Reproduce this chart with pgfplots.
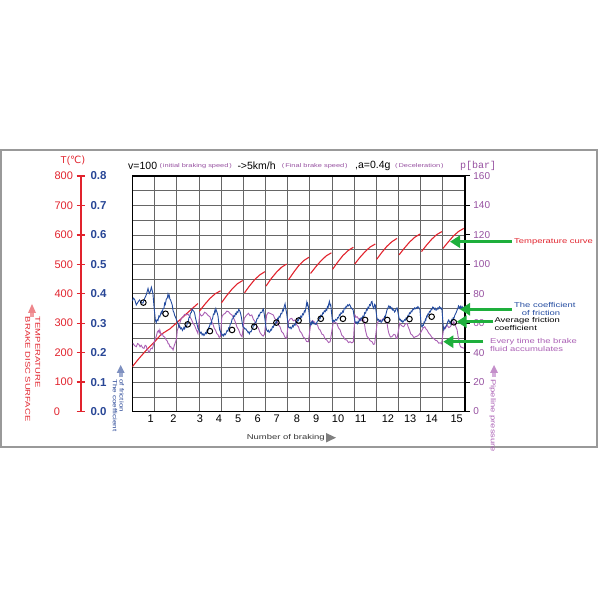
\documentclass[border=0pt]{standalone}
\usepackage{fontspec}
\setmainfont{Liberation Sans}
\newfontfamily\wide[FakeStretch=1.35]{Liberation Sans}
\newfontfamily\dejavu{DejaVu Sans}
\newfontfamily\mono{Liberation Mono}
\usepackage{pgfplots}
\pgfplotsset{compat=1.18}
\usepackage{pgfplotstable}
\usetikzlibrary{arrows.meta}

\definecolor{tred}{RGB}{225,35,45}
\definecolor{fblue}{RGB}{35,75,160}
\definecolor{lblue}{RGB}{40,70,150}
\definecolor{ppurple}{RGB}{170,95,180}
\definecolor{plab}{RGB}{150,80,160}
\definecolor{agreen}{RGB}{30,175,60}

\pgfplotstableread{
x T
0 152
0.3 180
0.7 214
1.0 236
1.3 262
1.7 281
2.1 308
2.5 336
2.96 367
nan nan
3.03 341
3.27 364
3.5 384
3.74 400
3.98 410
nan nan
4.02 369
4.26 394
4.5 416
4.74 434
4.98 445
nan nan
5.06 403
5.29 427
5.52 448
5.75 464
5.98 475
nan nan
6.03 426
6.26 451
6.50 473
6.73 490
6.96 501
nan nan
7.04 447
7.27 472
7.50 495
7.74 513
7.97 524
nan nan
8.04 469
8.28 492
8.51 512
8.75 529
8.98 539
nan nan
9.03 483
9.27 508
9.50 530
9.74 547
9.97 558
nan nan
10.03 501
10.26 523
10.50 543
10.73 559
10.96 569
nan nan
11.02 517
11.25 540
11.48 561
11.71 577
11.94 588
nan nan
12.03 532
12.27 555
12.51 576
12.74 592
12.98 603
nan nan
13.04 543
13.27 565
13.50 585
13.73 601
13.96 611
nan nan
14.01 554
14.25 576
14.48 596
14.72 612
14.95 622
}\temp

\pgfplotstableread{
x m
0.00 0.375
0.05 0.385
0.11 0.380
0.18 0.362
0.26 0.372
0.33 0.379
0.40 0.370
0.48 0.368
0.56 0.385
0.63 0.396
0.71 0.418
0.75 0.405
0.78 0.401
0.82 0.410
0.86 0.422
0.93 0.401
0.98 0.356
1.04 0.311
1.08 0.302
1.12 0.312
1.16 0.309
1.20 0.325
1.24 0.322
1.31 0.339
1.34 0.333
1.38 0.348
1.43 0.352
1.46 0.368
1.49 0.364
1.53 0.381
1.58 0.386
1.61 0.399
1.65 0.388
1.67 0.393
1.69 0.383
1.73 0.378
1.76 0.371
1.80 0.362
1.84 0.342
1.88 0.336
1.91 0.326
1.94 0.322
1.97 0.316
2.03 0.305
2.08 0.295
2.11 0.286
2.14 0.290
2.18 0.281
2.22 0.284
2.26 0.275
2.29 0.279
2.33 0.286
2.36 0.281
2.40 0.291
2.44 0.287
2.48 0.300
2.52 0.303
2.55 0.318
2.59 0.320
2.62 0.334
2.66 0.336
2.70 0.348
2.74 0.343
2.78 0.340
2.81 0.334
2.85 0.318
2.89 0.305
2.92 0.296
2.96 0.283
3.04 0.272
3.07 0.266
3.11 0.269
3.15 0.260
3.19 0.264
3.23 0.258
3.27 0.262
3.30 0.268
3.34 0.265
3.38 0.276
3.41 0.274
3.45 0.286
3.48 0.288
3.52 0.300
3.56 0.297
3.59 0.312
3.62 0.316
3.66 0.331
3.69 0.330
3.72 0.342
3.74 0.338
3.77 0.349
3.79 0.343
3.83 0.335
3.87 0.322
3.90 0.300
3.94 0.277
4.02 0.265
4.05 0.258
4.09 0.262
4.12 0.257
4.16 0.264
4.20 0.261
4.24 0.268
4.27 0.275
4.31 0.273
4.35 0.285
4.39 0.286
4.42 0.298
4.46 0.300
4.50 0.314
4.54 0.315
4.58 0.326
4.62 0.323
4.65 0.333
4.69 0.330
4.72 0.339
4.76 0.336
4.80 0.347
4.84 0.343
4.88 0.334
4.92 0.320
4.95 0.305
4.99 0.288
5.04 0.285
5.08 0.280
5.12 0.281
5.16 0.275
5.19 0.273
5.22 0.268
5.25 0.270
5.28 0.264
5.32 0.272
5.36 0.271
5.40 0.280
5.43 0.282
5.46 0.291
5.50 0.292
5.54 0.303
5.58 0.303
5.62 0.315
5.66 0.316
5.70 0.327
5.73 0.325
5.78 0.337
5.84 0.336
5.88 0.345
5.91 0.348
5.94 0.336
5.97 0.320
6.03 0.285
6.06 0.277
6.10 0.272
6.14 0.276
6.17 0.269
6.21 0.272
6.25 0.279
6.28 0.277
6.32 0.288
6.36 0.286
6.40 0.296
6.44 0.294
6.48 0.305
6.51 0.303
6.55 0.316
6.58 0.313
6.62 0.323
6.66 0.320
6.70 0.333
6.74 0.332
6.78 0.345
6.81 0.342
6.85 0.356
6.89 0.366
6.92 0.350
6.96 0.334
7.04 0.288
7.08 0.284
7.12 0.287
7.16 0.281
7.19 0.284
7.23 0.292
7.26 0.288
7.30 0.296
7.34 0.293
7.38 0.304
7.42 0.301
7.46 0.312
7.49 0.309
7.53 0.319
7.56 0.316
7.60 0.324
7.64 0.320
7.68 0.332
7.72 0.329
7.76 0.341
7.79 0.338
7.83 0.352
7.87 0.371
7.89 0.362
7.91 0.366
7.94 0.356
8.02 0.300
8.05 0.294
8.08 0.302
8.10 0.298
8.13 0.306
8.16 0.303
8.20 0.297
8.24 0.299
8.28 0.296
8.32 0.302
8.36 0.308
8.40 0.309
8.44 0.318
8.47 0.316
8.51 0.327
8.55 0.324
8.59 0.335
8.62 0.333
8.66 0.342
8.70 0.339
8.74 0.347
8.77 0.344
8.80 0.356
8.83 0.353
8.86 0.366
8.89 0.374
8.92 0.360
8.95 0.363
9.02 0.310
9.04 0.305
9.08 0.310
9.12 0.306
9.17 0.313
9.22 0.310
9.26 0.319
9.30 0.318
9.34 0.329
9.37 0.326
9.41 0.335
9.45 0.333
9.49 0.341
9.52 0.338
9.56 0.351
9.60 0.349
9.64 0.357
9.67 0.355
9.71 0.362
9.75 0.359
9.79 0.364
9.82 0.361
9.86 0.353
9.89 0.351
9.93 0.347
9.96 0.345
10.03 0.310
10.06 0.302
10.10 0.304
10.14 0.298
10.18 0.306
10.21 0.303
10.25 0.312
10.28 0.309
10.32 0.318
10.36 0.315
10.40 0.324
10.44 0.321
10.48 0.336
10.52 0.334
10.56 0.346
10.59 0.344
10.63 0.354
10.66 0.351
10.70 0.363
10.74 0.360
10.78 0.372
10.81 0.374
10.85 0.356
10.89 0.350
10.93 0.364
10.96 0.361
11.03 0.318
11.07 0.310
11.11 0.313
11.15 0.306
11.19 0.309
11.22 0.303
11.26 0.306
11.30 0.313
11.34 0.311
11.38 0.323
11.41 0.321
11.45 0.334
11.49 0.346
11.53 0.352
11.57 0.359
11.61 0.353
11.64 0.356
11.68 0.349
11.71 0.352
11.75 0.344
11.79 0.346
11.83 0.338
11.86 0.341
11.90 0.350
11.94 0.352
12.03 0.318
12.06 0.311
12.09 0.313
12.13 0.306
12.16 0.309
12.20 0.303
12.24 0.307
12.28 0.312
12.31 0.310
12.35 0.318
12.39 0.316
12.43 0.326
12.46 0.324
12.50 0.335
12.54 0.333
12.58 0.341
12.61 0.339
12.65 0.348
12.69 0.346
12.73 0.352
12.77 0.349
12.81 0.353
12.84 0.350
12.88 0.356
12.92 0.353
12.97 0.348
13.03 0.292
13.07 0.287
13.10 0.294
13.13 0.293
13.16 0.304
13.19 0.303
13.22 0.313
13.24 0.311
13.27 0.323
13.29 0.321
13.33 0.331
13.36 0.329
13.40 0.340
13.44 0.338
13.48 0.348
13.51 0.346
13.55 0.355
13.59 0.353
13.62 0.347
13.66 0.351
13.70 0.344
13.74 0.346
13.78 0.352
13.81 0.349
13.85 0.356
13.89 0.353
13.93 0.348
13.96 0.351
14.03 0.285
14.05 0.277
14.09 0.284
14.12 0.286
14.16 0.292
14.19 0.295
14.23 0.306
14.27 0.311
14.30 0.304
14.33 0.306
14.36 0.298
14.38 0.301
14.41 0.312
14.44 0.309
14.47 0.318
14.50 0.316
14.55 0.328
14.60 0.335
14.65 0.345
14.69 0.352
14.71 0.359
14.73 0.357
14.77 0.350
14.80 0.357
14.84 0.350
14.87 0.357
14.92 0.352
14.98 0.354
}\fric

\pgfplotstableread{
x m
0.5 0.370
1.5 0.332
2.5 0.296
3.5 0.273
4.5 0.277
5.5 0.288
6.5 0.302
7.5 0.309
8.5 0.315
9.5 0.315
10.5 0.311
11.5 0.311
12.5 0.314
13.5 0.322
14.5 0.303
}\avg

\pgfplotstableread{
x p
0.03 46.3
0.10 44.8
0.18 44.0
0.24 46.2
0.30 45.5
0.35 44.0
0.40 45.0
0.47 43.2
0.53 42.9
0.58 45.0
0.63 44.5
0.67 42.2
0.70 42.0
0.74 40.2
0.78 40.6
0.82 42.4
0.86 43.0
0.90 42.6
0.93 44.0
0.98 47.0
1.03 49.0
1.08 51.0
1.13 54.0
1.18 55.0
1.21 53.6
1.24 55.4
1.28 53.0
1.31 52.0
1.36 52.6
1.40 51.0
1.46 50.6
1.53 48.6
1.58 47.8
1.62 46.0
1.66 45.8
1.69 44.0
1.73 44.2
1.76 43.0
1.80 43.1
1.84 41.8
1.88 44.2
1.92 46.0
1.96 47.6
2.00 50.0
2.03 55.0
2.09 58.0
2.14 60.0
2.21 63.2
2.29 64.4
2.36 66.0
2.44 65.6
2.51 66.2
2.59 64.4
2.66 62.8
2.74 60.0
2.81 58.4
2.89 55.4
2.96 53.0
3.04 66.7
3.11 64.9
3.19 65.6
3.26 67.4
3.34 66.7
3.42 65.2
3.50 64.4
3.57 61.2
3.65 58.8
3.70 56.4
3.75 55.4
3.81 53.0
3.87 52.0
3.92 50.4
3.97 50.8
4.04 64.4
4.11 66.0
4.19 66.7
4.26 68.2
4.34 67.8
4.41 66.4
4.49 65.6
4.56 63.8
4.64 61.0
4.72 57.4
4.80 55.4
4.87 52.4
4.95 50.8
5.05 63.3
5.14 65.2
5.24 66.7
5.31 65.0
5.39 65.6
5.46 62.6
5.54 61.0
5.61 58.2
5.69 56.5
5.76 53.6
5.84 52.0
5.90 51.2
5.96 52.5
6.06 65.6
6.13 67.2
6.21 66.7
6.28 66.2
6.36 65.6
6.43 63.0
6.51 62.2
6.58 59.0
6.66 57.6
6.73 54.4
6.81 53.1
6.88 50.6
6.96 49.7
7.04 61.0
7.11 62.8
7.19 63.3
7.26 61.6
7.34 62.2
7.41 59.0
7.49 57.6
7.56 54.6
7.64 53.1
7.71 50.6
7.79 49.7
7.86 47.6
7.94 47.4
8.05 59.9
8.12 61.8
8.20 61.0
8.27 59.4
8.35 58.8
8.41 56.2
8.47 55.4
8.55 52.6
8.62 52.0
8.70 49.2
8.77 48.6
8.85 46.8
8.92 47.4
9.07 61.0
9.15 60.6
9.22 59.9
9.30 56.8
9.37 55.4
9.45 51.8
9.52 50.8
9.60 48.8
9.67 48.6
9.75 46.8
9.82 47.4
9.90 46.6
9.97 47.4
10.04 65.6
10.09 64.0
10.14 64.4
10.21 62.8
10.28 63.3
10.36 61.6
10.44 62.2
10.48 58.6
10.51 55.4
10.58 51.2
10.66 49.7
10.73 48.0
10.81 47.4
10.87 45.6
10.93 45.9
11.04 59.9
11.11 61.4
11.19 62.2
11.26 62.0
11.34 63.3
11.42 61.2
11.49 59.9
11.53 55.8
11.57 53.1
11.64 50.6
11.71 50.8
11.79 52.4
11.86 52.0
11.90 49.6
11.94 49.7
12.06 59.9
12.15 58.2
12.24 57.6
12.31 59.4
12.39 59.9
12.45 57.2
12.50 55.4
12.56 52.6
12.62 52.0
12.70 50.2
12.77 50.8
12.85 51.2
12.92 52.0
13.03 54.2
13.07 55.4
13.13 57.0
13.19 57.6
13.24 56.2
13.29 55.4
13.37 53.2
13.44 52.0
13.52 50.2
13.59 49.7
13.67 48.4
13.74 48.1
13.82 46.4
13.89 46.7
13.95 46.0
14.05 57.6
14.12 56.4
14.19 58.8
14.27 57.0
14.34 57.6
14.42 59.4
14.50 61.0
14.58 58.0
14.65 55.4
14.69 51.2
14.73 48.6
14.77 45.4
14.80 44.0
14.88 43.4
14.95 43.0
}\pres

\begin{document}
\begin{tikzpicture}[x=1pt,y=1pt]
\path[use as bounding box] (0,0) rectangle (600,600);
\draw[black!40, line width=2pt] (1,153) rectangle (597,450);

% main axis: grid + temperature
\begin{axis}[
  at={(132.3pt,188.5pt)}, anchor=south west, scale only axis,
  width=332.6pt, height=235.5pt,
  xmin=0, xmax=15, ymin=0, ymax=800,
  xtick={0,1,...,15}, xticklabels={},
  ytick={0,50,...,800}, yticklabels={},
  grid=major, grid style={black!60, line width=0.55pt},
  major tick length=0pt,
  extra x ticks={0.83,1.85,3.05,3.91,4.77,5.66,6.51,7.42,8.29,9.28,10.30,11.53,12.53,13.50,14.63},
  extra x tick labels={1,2,3,4,5,6,7,8,9,10,11,12,13,14,15},
  extra x tick style={grid=none, major tick length=0pt},
  xticklabel style={font=\fontsize{11}{11}\selectfont},
  axis line style={line width=1.5pt},
  /pgf/number format/assume math mode=true,
]
\addplot[tred, line width=1.1pt, unbounded coords=jump] table[x=x,y=T] {\temp};
\end{axis}

% pressure axis (right)
\begin{axis}[
  at={(132.3pt,188.5pt)}, anchor=south west, scale only axis,
  width=332.6pt, height=235.5pt,
  xmin=0, xmax=15, ymin=0, ymax=160,
  axis x line=none, axis y line*=right,
  ytick={0,20,...,160},
  tick align=outside, major tick length=5pt,
  every tick/.style={black, line width=1pt},
  axis line style={line width=1.5pt},
  yticklabel style={plab, font=\fontsize{10}{10}\selectfont},
  /pgf/number format/assume math mode=true,
]
\addplot[ppurple, line width=0.9pt] table[x=x,y=p] {\pres};
\end{axis}

% friction axis (hidden)
\begin{axis}[
  at={(132.3pt,188.5pt)}, anchor=south west, scale only axis,
  width=332.6pt, height=235.5pt,
  xmin=0, xmax=15, ymin=0, ymax=0.8, hide axis,
]
\addplot[fblue, line width=0.9pt] table[x=x,y=m] {\fric};
\addplot[only marks, mark=o, mark size=2.8pt, black, mark options={line width=1pt, fill=white}] table[x=x,y=m] {\avg};
\end{axis}

% temperature scale (red) at left
\begin{axis}[
  at={(81pt,188.5pt)}, anchor=south west, scale only axis,
  width=1pt, height=235.5pt,
  xmin=0, xmax=1, ymin=0, ymax=800,
  axis x line=none, axis y line*=left,
  ytick={0,100,...,800},
  yticklabels={{0\hspace*{13pt}},100,200,300,400,500,600,700,800},
  axis line style={tred, line width=1.8pt},
  tick align=center, major tick length=9pt,
  every tick/.style={tred, line width=1.3pt},
  yticklabel style={tred, font=\fontsize{11}{11}\selectfont},
]
\end{axis}

% friction scale (blue) labels
\begin{axis}[
  at={(81pt,188.5pt)}, anchor=south west, scale only axis,
  width=1pt, height=235.5pt,
  xmin=0, xmax=1, ymin=0, ymax=0.8,
  axis x line=none, axis y line*=right,
  axis line style={draw=none},
  ytick={0,0.1,...,0.8}, major tick length=0pt,
  yticklabels={0.0,0.1,0.2,0.3,0.4,0.5,0.6,0.7,0.8},
  yticklabel style={lblue, font=\bfseries\fontsize{11.5}{12}\selectfont, xshift=5pt},
]
\end{axis}

% axis titles
\node[tred, font=\fontsize{10}{10}\selectfont] at (73,439) {T(\dejavu ℃)};
\node[plab, font=\mono\fontsize{10}{10}\selectfont, anchor=west, inner sep=0] at (460,434.3) {p[bar]};

% title line
\begin{scope}[every node/.style={anchor=west, inner sep=0}]
\node[font=\fontsize{10.5}{10.5}\selectfont] at (128,434.3) {v=100};
\node[plab, font=\wide\fontsize{5.5}{5.5}\selectfont] at (159.3,434.3) {(\,initial braking speed\,)};
\node[font=\fontsize{10.5}{10.5}\selectfont] at (237.3,434.3) {->5km/h};
\node[plab, font=\wide\fontsize{5.5}{5.5}\selectfont] at (281.7,434.3) {(\,Final brake speed\,)};
\node[font=\fontsize{10.5}{10.5}\selectfont] at (355,434.3) {,a=0.4g};
\node[plab, font=\wide\fontsize{5.5}{5.5}\selectfont] at (395,434.3) {(\,Deceleration\,)};

% annotations
\node[tred, font=\wide\fontsize{7}{7}\selectfont] at (514,357.7) {Temperature curve};
\node[fblue, font=\wide\fontsize{7}{7}\selectfont] at (514,295) {The coefficient};
\node[fblue, font=\wide\fontsize{7}{7}\selectfont] at (521.7,287.3) {of friction};
\node[font=\wide\fontsize{7}{7}\selectfont] at (494.3,279.3) {Average friction};
\node[font=\wide\fontsize{7}{7}\selectfont] at (494.3,271.7) {coefficient};
\node[ppurple, font=\wide\fontsize{7}{7}\selectfont] at (490,258.3) {Every time the brake};
\node[ppurple, font=\wide\fontsize{7}{7}\selectfont] at (490,251) {fluid accumulates};

% rotated labels
\node[tred, rotate=-90, font=\wide\fontsize{7}{7}\selectfont] at (37.7,283.3) {TEMPERATURE};
\node[tred, rotate=-90, font=\wide\fontsize{7}{7}\selectfont] at (27.7,283.3) {BRAKE DISC SURFACE};
\node[lblue, rotate=-90, font=\wide\fontsize{6}{6}\selectfont] at (121.7,221) {of friction};
\node[lblue, rotate=-90, font=\wide\fontsize{6}{6}\selectfont] at (115,221) {The coefficient};
\node[ppurple, rotate=-90, font=\wide\fontsize{7}{7}\selectfont] at (492.7,221) {Pipeline pressure};
\node[font=\wide\fontsize{7}{7}\selectfont, black!80] at (246.7,162.3) {Number of braking};
\end{scope}

% green arrows
\begin{scope}[agreen, line width=3pt, -{Triangle[length=10pt,width=12pt]}]
\draw (511.7,358.3) -- (450,358.3);
\draw (511.7,290.7) -- (460,290.7);
\draw (493.3,278.3) -- (456.7,278.3);
\draw (483.3,258.3) -- (443.3,258.3);
\end{scope}

% small block arrows
\fill[tred!55] (28,287) -- (36,287) -- (32,296) -- cycle;
\fill[tred!45] (30,283) rectangle (34,287);
\fill[lblue!60] (116.7,227) -- (124.7,227) -- (120.7,235) -- cycle;
\fill[lblue!45] (118.7,223) rectangle (122.7,227);
\fill[ppurple!70] (490,227) -- (498,227) -- (494,235) -- cycle;
\fill[ppurple!50] (492,223) rectangle (496,227);
\fill[black!50] (326,157.5) -- (326,167) -- (336,162.3) -- cycle;
\end{tikzpicture}
\end{document}
